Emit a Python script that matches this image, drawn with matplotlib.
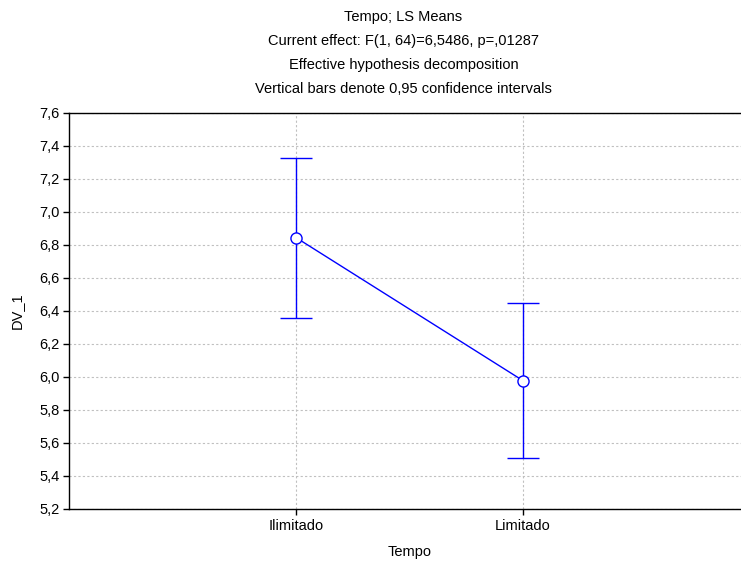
import numpy as np
import matplotlib
matplotlib.use("Agg")
import matplotlib.pyplot as plt
from matplotlib.ticker import FuncFormatter

categories = ["Ilimitado", "Limitado"]
means = [6.845, 5.978]
ci_low = [6.360, 5.510]
ci_high = [7.330, 6.450]

title_lines = [
    "Tempo; LS Means",
    "Current effect: F(1, 64)=6,5486, p=,01287",
    "Effective hypothesis decomposition",
    "Vertical bars denote 0,95 confidence intervals",
]

plt.rcParams['font.family'] = ['Liberation Sans', 'DejaVu Sans']

fig = plt.figure(figsize=(7.41, 5.67), dpi=100)
ax = fig.add_axes([69 / 741, 1 - 509 / 567, 1 - 69 / 741 + 0.012, (509 - 113) / 567])

x = np.arange(1, len(categories) + 1)
m = np.array(means)
yerr = [m - np.array(ci_low), np.array(ci_high) - m]

ax.errorbar(x, m, yerr=yerr, color="#0000ff", lw=1.0, capsize=11.5, capthick=1.0,
            marker="o", markersize=8, markerfacecolor="white", markeredgecolor="#0000ff",
            markeredgewidth=1.0, zorder=3)

ax.set_xlim(0, 3)
ax.set_ylim(5.2, 7.6)
ax.set_xticks(x)
ax.set_xticklabels(categories)
ax.set_yticks(np.arange(5.2, 7.61, 0.2))
ax.yaxis.set_major_formatter(FuncFormatter(lambda v, p: f"{v:.1f}".replace(".", ",")))

ax.grid(True, color="#c0c0c0", linestyle=(0, (2, 2)), linewidth=0.8)
ax.set_axisbelow(True)
for s in ["left", "bottom", "top"]:
    ax.spines[s].set_linewidth(1.0)
ax.spines["right"].set_visible(False)
ax.tick_params(direction="out", length=4, width=1, labelsize=10.5, pad=3)

ax.set_xlabel("Tempo", fontsize=10.5, labelpad=9)
ax.set_ylabel("DV_1", fontsize=10.5, labelpad=11)

for i, t in enumerate(title_lines):
    fig.text(0.5 * (69 / 741 + 1) - 0.002, 1 - (17 + 24 * i) / 567, t, ha="center", va="center", fontsize=10.5)

fig.savefig("out.png", dpi=100)
